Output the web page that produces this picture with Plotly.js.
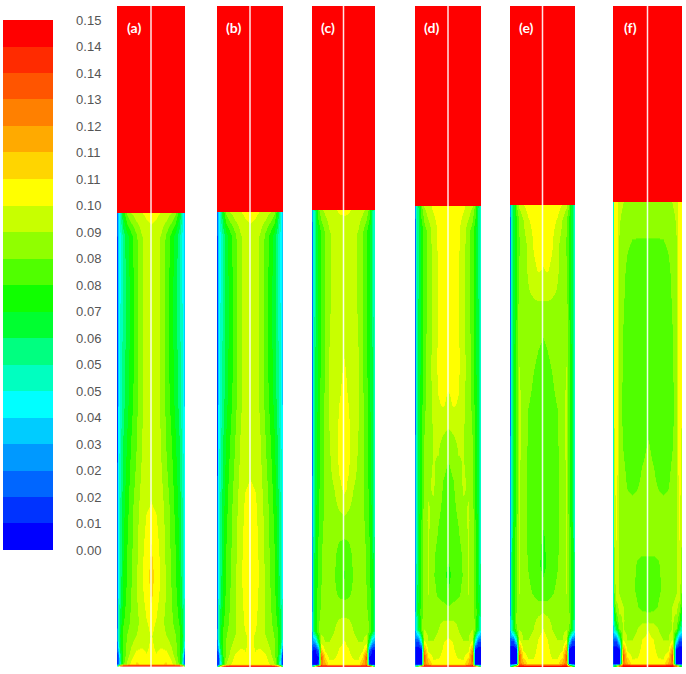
<!DOCTYPE html>
<html>
<head>
<meta charset="utf-8">
<script src="https://cdn.plot.ly/plotly-3.0.1.min.js"></script>
<style>html,body{margin:0;padding:0;background:#fff;}#chart{width:686px;height:674px;}</style>
</head>
<body>
<div id="chart"></div>
<script>
// ---------- data ----------
const panelLabels = ['(a)', '(b)', '(c)', '(d)', '(e)', '(f)'];
// radial positions (0 = axis, 1 = wall); profiles are symmetric about the axis
const radialPos = [0, 0.15, 0.3, 0.45, 0.6, 0.72, 0.82, 0.9, 0.96, 1.0];
// bed surface height as fraction of the column height
const bedHeight = [0.687, 0.688, 0.691, 0.697, 0.699, 0.703];
// freeboard value (above the bed)
const freeboardValue = 0.15;

// contour levels and legend labels
const levelValues = [0, 0.0075, 0.015, 0.0225, 0.03, 0.0375, 0.045, 0.0525, 0.06, 0.0675, 0.075,
                     0.0825, 0.09, 0.0975, 0.105, 0.1125, 0.12, 0.1275, 0.135, 0.1425, 0.15];
const levelLabels = ['0.00', '0.01', '0.02', '0.02', '0.03', '0.04', '0.05', '0.05', '0.06', '0.07', '0.08',
                     '0.08', '0.09', '0.10', '0.11', '0.11', '0.12', '0.13', '0.14', '0.14', '0.15'];

// heights (fraction of bed height) and half-profiles (axis -> wall) per panel
const heightsA = [0, 0.003, 0.008, 0.025, 0.045, 0.07, 0.1, 0.15, 0.2, 0.27, 0.35, 0.45, 0.6, 0.8, 0.95, 1.0];
const fieldA = [
  [0.146, 0.146, 0.146, 0.146, 0.146, 0.146, 0.146, 0.12, 0.08, 0.05],
  [0.146, 0.146, 0.146, 0.146, 0.146, 0.146, 0.146, 0.12, 0.08, 0.05],
  [0.102, 0.1, 0.104, 0.106, 0.1, 0.092, 0.08, 0.05, 0.015, 0.01],
  [0.1, 0.098, 0.101, 0.101, 0.094, 0.087, 0.078, 0.058, 0.02, 0.012],
  [0.099, 0.096, 0.097, 0.095, 0.09, 0.085, 0.077, 0.065, 0.04, 0.02],
  [0.098, 0.095, 0.093, 0.09, 0.086, 0.083, 0.078, 0.068, 0.05, 0.025],
  [0.1, 0.097, 0.092, 0.088, 0.084, 0.08, 0.074, 0.063, 0.048, 0.02],
  [0.106, 0.1, 0.095, 0.089, 0.083, 0.078, 0.07, 0.058, 0.045, 0.018],
  [0.108, 0.102, 0.096, 0.089, 0.082, 0.076, 0.068, 0.056, 0.044, 0.016],
  [0.105, 0.1, 0.095, 0.088, 0.081, 0.075, 0.067, 0.055, 0.043, 0.015],
  [0.098, 0.097, 0.093, 0.087, 0.08, 0.073, 0.065, 0.053, 0.042, 0.015],
  [0.095, 0.094, 0.09, 0.083, 0.077, 0.07, 0.062, 0.051, 0.04, 0.015],
  [0.095, 0.094, 0.088, 0.08, 0.072, 0.065, 0.057, 0.047, 0.037, 0.014],
  [0.095, 0.094, 0.088, 0.079, 0.07, 0.063, 0.055, 0.045, 0.036, 0.014],
  [0.096, 0.094, 0.089, 0.081, 0.073, 0.065, 0.056, 0.044, 0.034, 0.015],
  [0.099, 0.099, 0.097, 0.095, 0.09, 0.085, 0.07, 0.05, 0.035, 0.02]
];

const heightsB = [0, 0.003, 0.008, 0.025, 0.045, 0.07, 0.1, 0.15, 0.2, 0.27, 0.35, 0.42, 0.6, 0.8, 0.95, 1.0];
const fieldB = [
  [0.146, 0.146, 0.146, 0.146, 0.146, 0.146, 0.13, 0.1, 0.06, 0.03],
  [0.146, 0.146, 0.146, 0.146, 0.146, 0.146, 0.13, 0.1, 0.06, 0.03],
  [0.1, 0.1, 0.104, 0.102, 0.097, 0.09, 0.07, 0.04, 0.01, 0.008],
  [0.1, 0.098, 0.101, 0.099, 0.092, 0.086, 0.075, 0.05, 0.012, 0.01],
  [0.099, 0.097, 0.097, 0.094, 0.089, 0.084, 0.076, 0.062, 0.035, 0.018],
  [0.099, 0.097, 0.093, 0.09, 0.086, 0.082, 0.077, 0.067, 0.05, 0.025],
  [0.101, 0.099, 0.094, 0.089, 0.084, 0.08, 0.074, 0.063, 0.048, 0.02],
  [0.102, 0.1, 0.095, 0.089, 0.083, 0.078, 0.07, 0.058, 0.045, 0.018],
  [0.103, 0.101, 0.096, 0.089, 0.082, 0.076, 0.068, 0.056, 0.044, 0.016],
  [0.103, 0.1, 0.095, 0.088, 0.081, 0.075, 0.067, 0.055, 0.043, 0.015],
  [0.101, 0.099, 0.094, 0.087, 0.08, 0.073, 0.065, 0.053, 0.042, 0.015],
  [0.097, 0.096, 0.092, 0.085, 0.078, 0.071, 0.063, 0.052, 0.041, 0.015],
  [0.095, 0.094, 0.088, 0.08, 0.072, 0.065, 0.057, 0.047, 0.037, 0.014],
  [0.095, 0.094, 0.088, 0.079, 0.07, 0.063, 0.055, 0.045, 0.036, 0.014],
  [0.096, 0.094, 0.089, 0.081, 0.073, 0.065, 0.056, 0.044, 0.034, 0.015],
  [0.099, 0.099, 0.097, 0.095, 0.09, 0.085, 0.07, 0.05, 0.035, 0.02]
];

const heightsC = [0, 0.003, 0.008, 0.022, 0.038, 0.055, 0.08, 0.12, 0.16, 0.2, 0.25, 0.32, 0.39, 0.45, 0.52, 0.6, 0.7, 0.8, 0.95, 1.0];
const fieldC = [
  [0.146, 0.146, 0.146, 0.146, 0.146, 0.146, 0.146, 0.1, 0.06, 0.05],
  [0.146, 0.146, 0.146, 0.146, 0.146, 0.146, 0.146, 0.1, 0.06, 0.05],
  [0.101, 0.1, 0.099, 0.1, 0.115, 0.124, 0.01, 0.003, 0.003, 0.01],
  [0.1, 0.099, 0.097, 0.096, 0.104, 0.13, 0.006, 0.003, 0.003, 0.012],
  [0.099, 0.098, 0.095, 0.092, 0.095, 0.11, 0.02, 0.006, 0.006, 0.015],
  [0.098, 0.096, 0.093, 0.09, 0.09, 0.095, 0.06, 0.03, 0.025, 0.025],
  [0.095, 0.094, 0.09, 0.087, 0.086, 0.088, 0.082, 0.07, 0.055, 0.03],
  [0.088, 0.088, 0.087, 0.086, 0.085, 0.084, 0.08, 0.072, 0.058, 0.03],
  [0.08, 0.081, 0.084, 0.086, 0.086, 0.083, 0.078, 0.07, 0.056, 0.028],
  [0.074, 0.078, 0.083, 0.087, 0.086, 0.082, 0.077, 0.069, 0.055, 0.026],
  [0.078, 0.08, 0.084, 0.088, 0.086, 0.082, 0.076, 0.067, 0.053, 0.025],
  [0.088, 0.087, 0.086, 0.088, 0.085, 0.08, 0.074, 0.065, 0.052, 0.024],
  [0.099, 0.096, 0.09, 0.088, 0.084, 0.079, 0.073, 0.064, 0.051, 0.023],
  [0.1, 0.099, 0.093, 0.089, 0.084, 0.079, 0.072, 0.063, 0.05, 0.022],
  [0.1, 0.099, 0.094, 0.09, 0.084, 0.078, 0.071, 0.062, 0.049, 0.022],
  [0.099, 0.097, 0.094, 0.09, 0.084, 0.078, 0.07, 0.061, 0.048, 0.021],
  [0.097, 0.096, 0.093, 0.09, 0.084, 0.077, 0.069, 0.06, 0.047, 0.021],
  [0.096, 0.095, 0.093, 0.089, 0.083, 0.076, 0.068, 0.058, 0.046, 0.02],
  [0.096, 0.095, 0.093, 0.089, 0.083, 0.076, 0.068, 0.057, 0.045, 0.02],
  [0.098, 0.098, 0.097, 0.095, 0.092, 0.088, 0.08, 0.06, 0.045, 0.025]
];

const heightsD = [0, 0.003, 0.008, 0.022, 0.04, 0.058, 0.08, 0.12, 0.16, 0.2, 0.25, 0.32, 0.4, 0.48, 0.53, 0.57, 0.65, 0.8, 0.95, 1.0];
const fieldD = [
  [0.146, 0.146, 0.146, 0.146, 0.146, 0.146, 0.12, 0.08, 0.06, 0.05],
  [0.146, 0.146, 0.146, 0.146, 0.146, 0.146, 0.12, 0.08, 0.06, 0.05],
  [0.102, 0.101, 0.099, 0.101, 0.115, 0.125, 0.006, 0.002, 0.002, 0.01],
  [0.1, 0.099, 0.097, 0.096, 0.104, 0.132, 0.003, 0.002, 0.002, 0.01],
  [0.1, 0.098, 0.095, 0.092, 0.095, 0.116, 0.008, 0.003, 0.003, 0.012],
  [0.099, 0.097, 0.093, 0.09, 0.09, 0.098, 0.045, 0.015, 0.015, 0.02],
  [0.094, 0.093, 0.09, 0.087, 0.088, 0.09, 0.08, 0.06, 0.045, 0.03],
  [0.086, 0.087, 0.088, 0.087, 0.089, 0.088, 0.079, 0.068, 0.055, 0.03],
  [0.076, 0.079, 0.081, 0.085, 0.09, 0.088, 0.077, 0.067, 0.054, 0.028],
  [0.073, 0.077, 0.08, 0.083, 0.09, 0.089, 0.076, 0.066, 0.053, 0.026],
  [0.077, 0.078, 0.08, 0.084, 0.09, 0.089, 0.076, 0.065, 0.052, 0.025],
  [0.079, 0.08, 0.083, 0.088, 0.091, 0.087, 0.075, 0.064, 0.051, 0.024],
  [0.08, 0.082, 0.087, 0.091, 0.089, 0.085, 0.074, 0.063, 0.05, 0.023],
  [0.084, 0.087, 0.091, 0.09, 0.087, 0.083, 0.073, 0.062, 0.05, 0.023],
  [0.092, 0.093, 0.094, 0.091, 0.086, 0.082, 0.072, 0.061, 0.049, 0.022],
  [0.096, 0.098, 0.097, 0.092, 0.086, 0.081, 0.072, 0.061, 0.048, 0.022],
  [0.1, 0.1, 0.099, 0.093, 0.086, 0.08, 0.071, 0.06, 0.047, 0.021],
  [0.101, 0.1, 0.098, 0.092, 0.085, 0.079, 0.07, 0.06, 0.047, 0.021],
  [0.102, 0.101, 0.099, 0.093, 0.086, 0.079, 0.07, 0.059, 0.046, 0.02],
  [0.102, 0.102, 0.101, 0.099, 0.095, 0.09, 0.08, 0.06, 0.045, 0.025]
];

const heightsE = [0, 0.003, 0.008, 0.022, 0.04, 0.058, 0.08, 0.11, 0.16, 0.22, 0.28, 0.35, 0.45, 0.55, 0.65, 0.75, 0.8, 0.86, 0.92, 0.97, 1.0];
const fieldE = [
  [0.146, 0.146, 0.146, 0.146, 0.146, 0.146, 0.12, 0.08, 0.06, 0.05],
  [0.146, 0.146, 0.146, 0.146, 0.146, 0.146, 0.12, 0.08, 0.06, 0.05],
  [0.103, 0.101, 0.099, 0.101, 0.115, 0.125, 0.006, 0.002, 0.002, 0.01],
  [0.101, 0.1, 0.097, 0.096, 0.104, 0.132, 0.003, 0.002, 0.002, 0.01],
  [0.1, 0.099, 0.095, 0.092, 0.095, 0.116, 0.008, 0.003, 0.003, 0.012],
  [0.1, 0.098, 0.093, 0.09, 0.09, 0.098, 0.045, 0.015, 0.015, 0.02],
  [0.098, 0.095, 0.09, 0.087, 0.088, 0.09, 0.082, 0.06, 0.045, 0.03],
  [0.092, 0.09, 0.088, 0.086, 0.087, 0.089, 0.083, 0.07, 0.055, 0.03],
  [0.078, 0.079, 0.082, 0.084, 0.087, 0.09, 0.08, 0.069, 0.054, 0.028],
  [0.073, 0.076, 0.079, 0.082, 0.086, 0.091, 0.079, 0.068, 0.053, 0.026],
  [0.074, 0.077, 0.079, 0.081, 0.086, 0.091, 0.079, 0.068, 0.052, 0.025],
  [0.078, 0.078, 0.079, 0.081, 0.086, 0.091, 0.078, 0.067, 0.051, 0.024],
  [0.079, 0.079, 0.079, 0.081, 0.087, 0.091, 0.078, 0.066, 0.05, 0.023],
  [0.079, 0.079, 0.08, 0.082, 0.088, 0.091, 0.077, 0.065, 0.049, 0.022],
  [0.08, 0.081, 0.083, 0.086, 0.089, 0.09, 0.076, 0.064, 0.048, 0.022],
  [0.084, 0.085, 0.087, 0.088, 0.089, 0.088, 0.075, 0.063, 0.048, 0.022],
  [0.091, 0.091, 0.09, 0.089, 0.088, 0.086, 0.074, 0.062, 0.048, 0.022],
  [0.097, 0.098, 0.096, 0.091, 0.087, 0.083, 0.073, 0.061, 0.047, 0.021],
  [0.101, 0.101, 0.098, 0.092, 0.087, 0.082, 0.072, 0.06, 0.047, 0.021],
  [0.103, 0.102, 0.1, 0.097, 0.09, 0.084, 0.073, 0.06, 0.046, 0.022],
  [0.104, 0.104, 0.103, 0.101, 0.097, 0.092, 0.082, 0.06, 0.045, 0.025]
];

const heightsF = [0, 0.003, 0.008, 0.022, 0.04, 0.058, 0.08, 0.1, 0.13, 0.17, 0.22, 0.26, 0.32, 0.42, 0.48, 0.55, 0.7, 0.85, 0.93, 0.97, 1.0];
const fieldF = [
  [0.146, 0.146, 0.146, 0.146, 0.146, 0.146, 0.12, 0.08, 0.06, 0.05],
  [0.146, 0.146, 0.146, 0.146, 0.146, 0.146, 0.12, 0.08, 0.06, 0.05],
  [0.103, 0.101, 0.099, 0.101, 0.115, 0.125, 0.006, 0.002, 0.002, 0.01],
  [0.101, 0.1, 0.097, 0.096, 0.104, 0.132, 0.003, 0.002, 0.002, 0.01],
  [0.1, 0.099, 0.095, 0.092, 0.095, 0.116, 0.008, 0.003, 0.003, 0.012],
  [0.1, 0.098, 0.093, 0.09, 0.09, 0.098, 0.045, 0.015, 0.015, 0.02],
  [0.097, 0.094, 0.09, 0.087, 0.088, 0.09, 0.082, 0.06, 0.05, 0.035],
  [0.088, 0.088, 0.087, 0.086, 0.087, 0.091, 0.088, 0.075, 0.06, 0.04],
  [0.079, 0.08, 0.083, 0.085, 0.086, 0.09, 0.092, 0.088, 0.075, 0.045],
  [0.077, 0.078, 0.081, 0.084, 0.085, 0.087, 0.089, 0.094, 0.085, 0.045],
  [0.081, 0.081, 0.082, 0.084, 0.085, 0.086, 0.088, 0.096, 0.088, 0.045],
  [0.084, 0.084, 0.084, 0.085, 0.085, 0.086, 0.088, 0.097, 0.09, 0.045],
  [0.085, 0.085, 0.085, 0.085, 0.085, 0.086, 0.089, 0.099, 0.093, 0.045],
  [0.084, 0.083, 0.081, 0.08, 0.081, 0.084, 0.089, 0.102, 0.096, 0.045],
  [0.083, 0.081, 0.079, 0.078, 0.079, 0.082, 0.088, 0.103, 0.097, 0.045],
  [0.079, 0.079, 0.078, 0.078, 0.078, 0.08, 0.087, 0.104, 0.098, 0.045],
  [0.078, 0.078, 0.078, 0.078, 0.079, 0.082, 0.088, 0.104, 0.098, 0.045],
  [0.078, 0.078, 0.078, 0.079, 0.081, 0.084, 0.089, 0.104, 0.098, 0.045],
  [0.083, 0.083, 0.083, 0.083, 0.084, 0.086, 0.09, 0.104, 0.098, 0.045],
  [0.087, 0.087, 0.087, 0.087, 0.087, 0.088, 0.091, 0.104, 0.098, 0.045],
  [0.089, 0.089, 0.089, 0.089, 0.089, 0.09, 0.093, 0.104, 0.098, 0.045]
];

const panelHeights = [heightsA, heightsB, heightsC, heightsD, heightsE, heightsF];
const panelFields = [fieldA, fieldB, fieldC, fieldD, fieldE, fieldF];

// ---------- style ----------
const bandColors = ['#0000FF', '#0033FF', '#0066FF', '#0099FF', '#00CCFF', '#00FFFF', '#00FFC0', '#00FF80',
                    '#00FF30', '#10FF00', '#50FF00', '#90FF00', '#C8FF00', '#FFFF00', '#FFD500', '#FFAA00',
                    '#FF8000', '#FF5500', '#FF2B00', '#FF0000'];
const colorscale = [];
bandColors.forEach((c, k) => {
  colorscale.push([k / bandColors.length, c]);
  colorscale.push([(k + 1) / bandColors.length, c]);
});
const W = 686, H = 674;
const panelPx = [[117, 185], [217, 283], [312, 375], [415, 481], [510, 575], [613, 682]];
const yDomain = [(H - 667) / H, (H - 6) / H];

// ---------- build ----------
const fullX = radialPos.slice().reverse().map(r => -r).concat(radialPos.slice(1));
const traces = [];
const layout = {
  width: W, height: H,
  margin: {l: 0, r: 0, t: 0, b: 0, pad: 0, autoexpand: false},
  paper_bgcolor: '#ffffff', plot_bgcolor: '#ffffff',
  showlegend: false,
  shapes: [], annotations: []
};

panelFields.forEach((field, i) => {
  const n = i === 0 ? '' : String(i + 1);
  const xa = 'x' + n, ya = 'y' + n;
  const bed = bedHeight[i];
  const z = field.map(row => row.slice().reverse().concat(row.slice(1)));
  const y = panelHeights[i].map(h => h * bed);
  const tr = {
    type: 'heatmap', x: fullX, y: y, z: z, xaxis: xa, yaxis: ya,
    zmin: 0, zmax: 0.15, colorscale: colorscale, zsmooth: 'best',
    hoverinfo: 'skip', showscale: i === 0
  };
  if (i === 0) {
    tr.colorbar = {
      x: 3 / W, xanchor: 'left', y: 1 - 20 / H, yanchor: 'top',
      len: 530 / H, lenmode: 'fraction', thickness: 50, thicknessmode: 'pixels',
      outlinewidth: 0, xpad: 0, ypad: 0,
      tickmode: 'array', tickvals: levelValues, ticktext: levelLabels,
      ticks: 'outside', ticklen: 21, tickcolor: 'rgba(0,0,0,0)',
      tickfont: {family: 'Liberation Sans, Arial, sans-serif', size: 13, color: '#555555'}
    };
  }
  traces.push(tr);
  // freeboard above the bed
  traces.push({
    type: 'heatmap', x: [-1, 1], y: [bed, 1], z: [[freeboardValue]], xaxis: xa, yaxis: ya,
    zmin: 0, zmax: 0.15, colorscale: colorscale, showscale: false, hoverinfo: 'skip'
  });
  layout['xaxis' + n] = {
    domain: [panelPx[i][0] / W, panelPx[i][1] / W], range: [-1, 1], anchor: ya,
    showgrid: false, zeroline: false, showticklabels: false, ticks: '', showline: false, fixedrange: true
  };
  layout['yaxis' + n] = {
    domain: yDomain, range: [0, 1], anchor: xa,
    showgrid: false, zeroline: false, showticklabels: false, ticks: '', showline: false, fixedrange: true
  };
  layout.shapes.push({
    type: 'line', xref: xa, yref: ya, x0: 0, x1: 0, y0: 0, y1: 1,
    line: {color: 'rgba(255,255,255,0.9)', width: 1.5}
  });
  layout.annotations.push({
    xref: xa, yref: ya, x: -0.5, y: 0.968, text: '<b>' + panelLabels[i] + '</b>', showarrow: false,
    font: {family: 'Lato, Open Sans, sans-serif', size: 14, color: '#ffffff'}
  });
});

Plotly.newPlot('chart', traces, layout, {displayModeBar: false, staticPlot: true});
</script>
</body>
</html>
